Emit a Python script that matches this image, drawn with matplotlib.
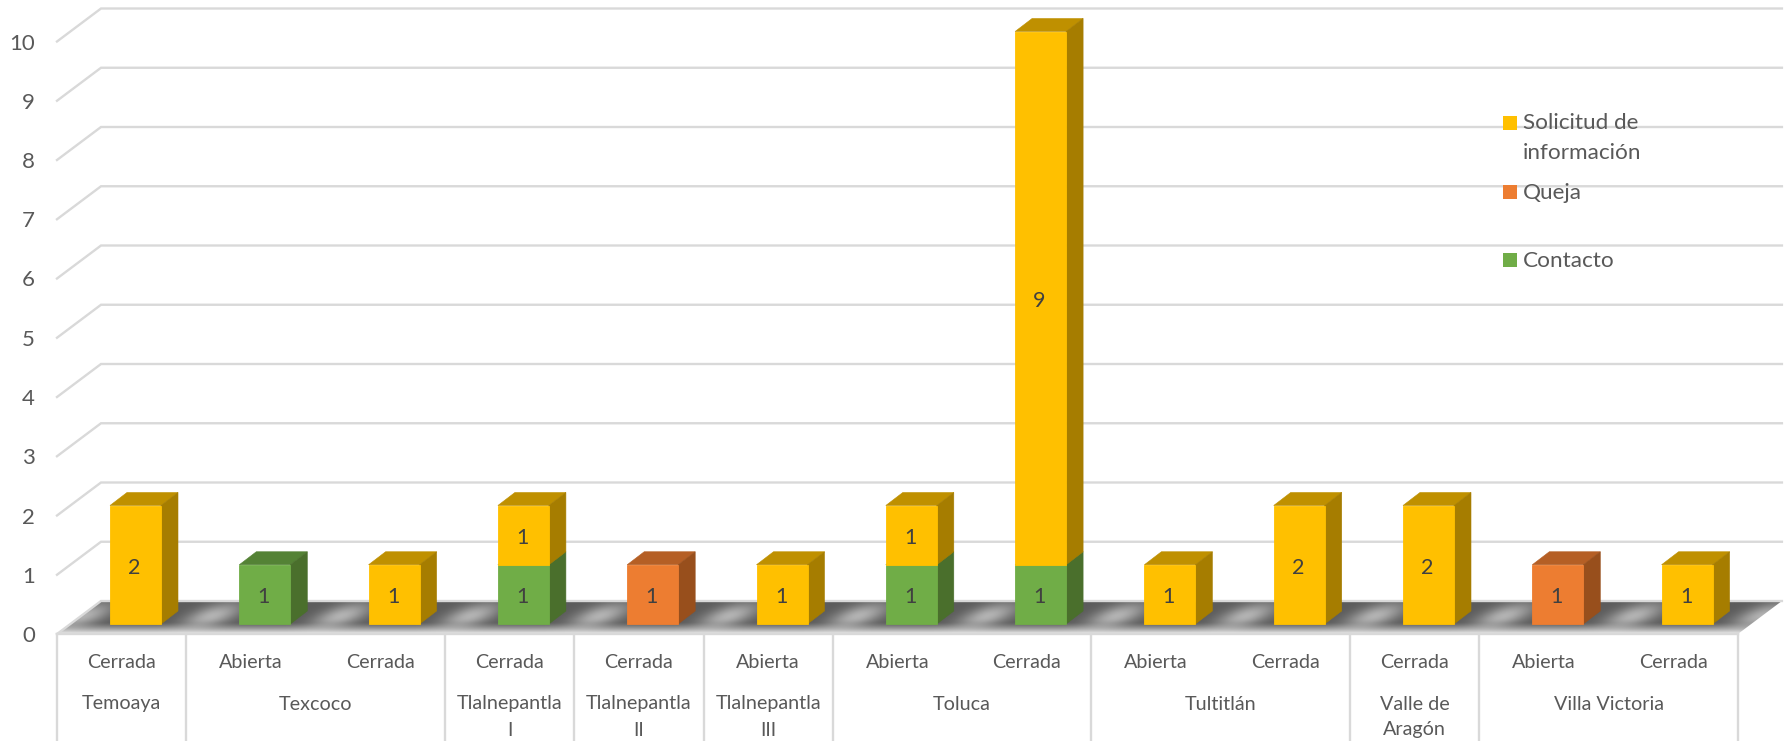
import numpy as np
from matplotlib import pyplot as plt
from matplotlib.patches import Polygon, Rectangle

plt.rcParams['font.family'] = ['Lato', 'DejaVu Sans']

# one entry per bar
plazas = ['Temoaya', 'Texcoco', 'Tlalnepantla\nI', 'Tlalnepantla\nII', 'Tlalnepantla\nIII',
          'Toluca', 'Tultitlán', 'Valle de\nAragón', 'Villa Victoria']
plaza_sizes = [1, 2, 1, 1, 1, 2, 2, 1, 2]
estados = ['Cerrada', 'Abierta', 'Cerrada', 'Cerrada', 'Cerrada', 'Abierta', 'Abierta',
           'Cerrada', 'Abierta', 'Cerrada', 'Cerrada', 'Abierta', 'Cerrada']
contacto = [0, 1, 0, 1, 0, 0, 1, 1, 0, 0, 0, 0, 0]
queja = [0, 0, 0, 0, 1, 0, 0, 0, 0, 0, 0, 1, 0]
solicitud = [2, 0, 1, 1, 0, 1, 1, 9, 1, 2, 2, 0, 1]
y_ticks = [0, 1, 2, 3, 4, 5, 6, 7, 8, 9, 10]

W, H = 1788, 741
CAT_PX = 129.3
UNIT_PX = 59.25
X0_PX, Y0_PX = 57, 634

# depth of the fake 3d box, in data units
WALL_DX, WALL_DY = 44 / CAT_PX, 33 / UNIT_PX
BAR_DX, BAR_DY = 17 / CAT_PX, 13 / UNIT_PX
BAR_W = 51 / CAT_PX
BAR_LEFT = 53 / CAT_PX
BAR_BASE = 10 / UNIT_PX

GRID = '#D9D9D9'
TEXT = '#595959'
LABEL = '#404040'

# front, top, side
COLORS = {
    'contacto': ('#70AD47', '#548235', '#4A6F2C'),
    'queja': ('#ED7D31', '#B55F25', '#984F1C'),
    'solicitud': ('#FFC000', '#BF9000', '#A67D00'),
}


def floor_shade(n_cat):
    """Grey floor, dark at the back, with light streaks between the bars"""
    u = np.linspace(0, n_cat + WALL_DX, 1800)
    v = np.linspace(0, 1, 66)
    uu, vv = np.meshgrid(u, v)
    depth = 1 - vv
    streak = np.cos(np.pi * (uu - 0.18 - (depth - 0.5) * WALL_DX)) ** 6
    shade = 0.36 + 0.34 * streak * np.exp(-((vv - 0.45) / 0.4) ** 2)
    # front of the floor fades to white
    fade = np.clip((vv - 0.65) / 0.35, 0, 1) ** 1.3
    return shade + (0.93 - shade) * fade


def draw_walls(ax, n_cat):
    for v in y_ticks:
        ax.plot([0, WALL_DX, n_cat + WALL_DX], [v, v + WALL_DY, v + WALL_DY],
                color=GRID, lw=1.7, zorder=2, solid_joinstyle='miter')
    # floor
    corners = [(0, 0), (WALL_DX, WALL_DY), (n_cat + WALL_DX, WALL_DY), (n_cat, 0)]
    img = ax.imshow(floor_shade(n_cat), cmap='gray', vmin=0, vmax=1, aspect='auto', zorder=1.5,
                    extent=(0, n_cat + WALL_DX, 0, WALL_DY), origin='upper', interpolation='bilinear')
    img.set_clip_path(Polygon(corners, transform=ax.transData))


def draw_box(ax, x, bottom, height, colors):
    front, top, side = colors
    y0 = BAR_BASE + bottom
    y1 = y0 + height
    x1 = x + BAR_W
    ax.bar(x, height, BAR_W, bottom=y0, align='edge', color=front, edgecolor=front, lw=0.6, zorder=4)
    ax.add_patch(Polygon([(x, y1), (x + BAR_DX, y1 + BAR_DY), (x1 + BAR_DX, y1 + BAR_DY), (x1, y1)],
                         fc=top, ec=top, lw=0.4, zorder=3))
    ax.add_patch(Polygon([(x1, y0), (x1 + BAR_DX, y0 + BAR_DY), (x1 + BAR_DX, y1 + BAR_DY), (x1, y1)],
                         fc=side, ec=side, lw=0.4, zorder=3))
    ax.text(x + BAR_W / 2 - 1 / CAT_PX, y0 + height / 2 - 3 / UNIT_PX, str(height), ha='center', va='center',
            fontsize=15.5, color=LABEL, zorder=5)


def draw_bars(ax):
    for i in range(len(estados)):
        bottom = 0
        for name, values in (('contacto', contacto), ('queja', queja), ('solicitud', solicitud)):
            if values[i]:
                draw_box(ax, i + BAR_LEFT, bottom, values[i], COLORS[name])
                bottom += values[i]


def draw_axis_labels(ax, ax_px):
    n_cat = len(estados)
    for v in y_ticks:
        ax.text(-22 / CAT_PX, v - 2 / UNIT_PX, str(v), ha='right', va='center', fontsize=16, color=TEXT)
    for i, estado in enumerate(estados):
        ax_px.text(X0_PX + (i + 0.5) * CAT_PX, 662, estado, ha='center', va='center', fontsize=14.2, color=TEXT)

    # box under the floor
    ax_px.plot([X0_PX, X0_PX + n_cat * CAT_PX], [Y0_PX, Y0_PX], color=GRID, lw=1.7)
    pos = 0
    ax_px.plot([X0_PX, X0_PX], [Y0_PX, H], color=GRID, lw=1.7)
    for plaza, size in zip(plazas, plaza_sizes):
        mid = X0_PX + (pos + size / 2) * CAT_PX
        if '\n' in plaza:
            first, second = plaza.split('\n')
            ax_px.text(mid, 704, first, ha='center', va='center', fontsize=14.2, color=TEXT)
            ax_px.text(mid, 730, second, ha='center', va='center', fontsize=14.2, color=TEXT)
        else:
            ax_px.text(mid, 704, plaza, ha='center', va='center', fontsize=14.2, color=TEXT)
        pos += size
        x = X0_PX + pos * CAT_PX
        ax_px.plot([x, x], [Y0_PX, H], color=GRID, lw=1.7)


def draw_legend(ax_px):
    entries = [('#FFC000', 116, [('Solicitud de', 123), ('información', 153)]),
               ('#ED7D31', 185, [('Queja', 193)]),
               ('#70AD47', 253, [('Contacto', 261)])]
    for color, y, lines in entries:
        ax_px.add_patch(Rectangle((1503, y), 14, 14, fc=color, ec='none'))
        for line, text_y in lines:
            ax_px.text(1523, text_y, line, ha='left', va='center', fontsize=16.2, color=TEXT)


def main():
    n_cat = len(estados)
    fig = plt.figure(figsize=(W / 100, H / 100), dpi=100)

    ax = fig.add_axes([0, 0, 1, 1])
    ax_px = fig.add_axes([0, 0, 1, 1])
    ax_px.set_xlim(0, W)
    ax_px.set_ylim(H, 0)
    ax_px.axis('off')
    ax_px.patch.set_alpha(0)

    draw_walls(ax, n_cat)
    draw_bars(ax)
    ax.set_xlim(-X0_PX / CAT_PX, (W - X0_PX) / CAT_PX)
    ax.set_ylim((Y0_PX - H) / UNIT_PX, Y0_PX / UNIT_PX)
    ax.axis('off')
    draw_axis_labels(ax, ax_px)
    draw_legend(ax_px)

    fig.savefig('out.png', dpi=100)


main()
